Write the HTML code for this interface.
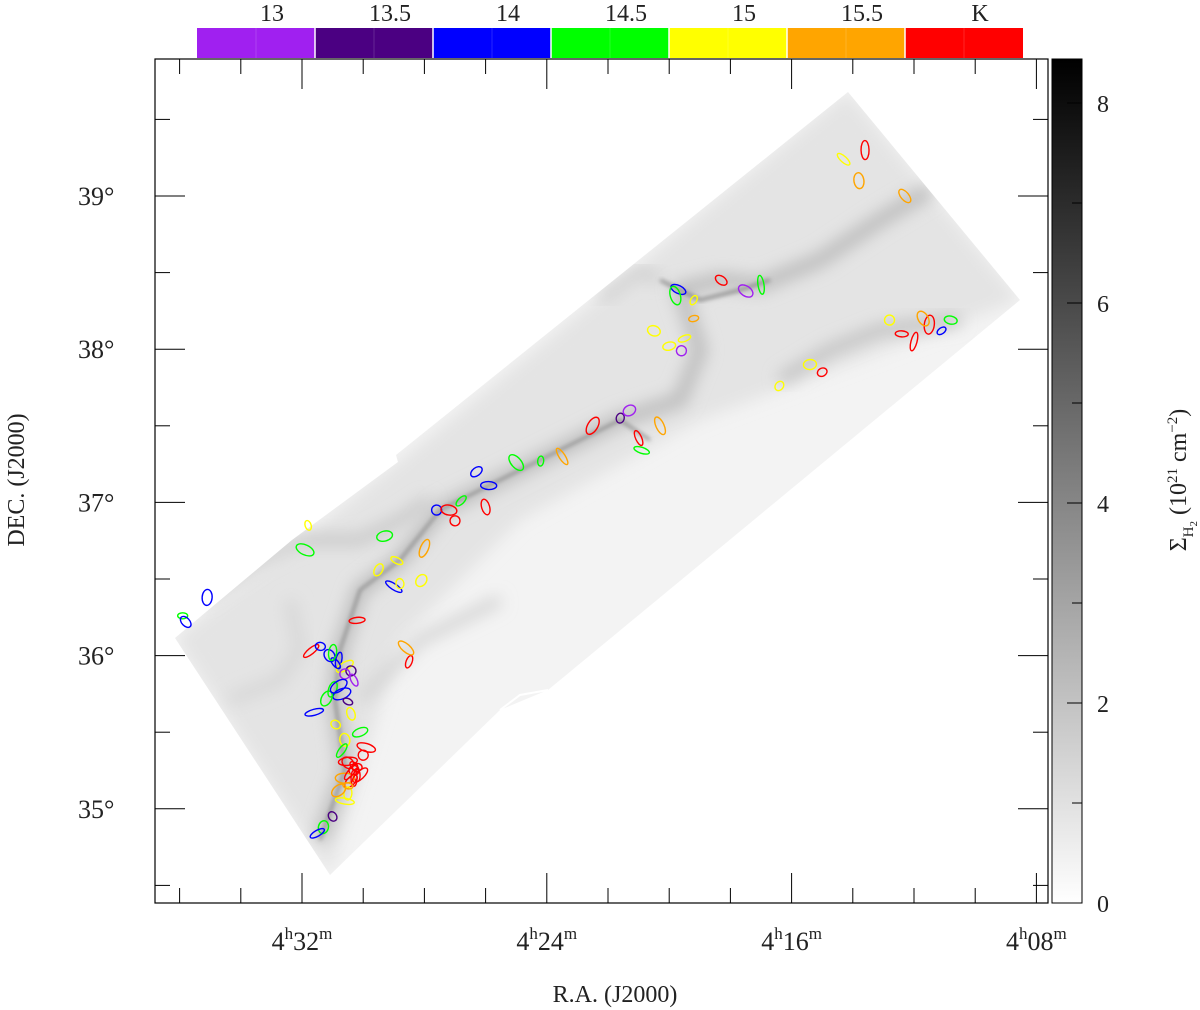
<!DOCTYPE html>
<html><head><meta charset="utf-8"><style>
html,body{margin:0;padding:0;background:#fff;}
svg{display:block;font-family:"Liberation Serif",serif;}
</style></head><body>
<svg id="chart" width="1200" height="1010" viewBox="0 0 1200 1010" xmlns="http://www.w3.org/2000/svg">
<defs>
<filter id="blur2" x="-20%" y="-20%" width="140%" height="140%"><feGaussianBlur stdDeviation="2"/></filter>
<filter id="blur6" x="-20%" y="-20%" width="140%" height="140%"><feGaussianBlur stdDeviation="8"/></filter>
<linearGradient id="greyGrad" x1="0" y1="1" x2="0" y2="0">
<stop offset="0" stop-color="#ffffff"/><stop offset="1" stop-color="#000000"/></linearGradient>
<clipPath id="mapClip"><polygon points="175,638 292,540 398,462 396,455 848,92 1020,300 548,690 500,710 330,875"/></clipPath>
</defs>
<g id="map">
<polygon points="175,638 292,540 398,462 396,455 848,92 1020,300 548,690 500,710 330,875" fill="#f3f3f3"/>
<g clip-path="url(#mapClip)">
<polygon points="175,638 398,462 848,92 1020,300 700,420 520,520 400,640 330,875" fill="#e4e4e4" filter="url(#blur6)"/>
<path d="M320,840 L345,770 L335,700 L340,650 L360,590 L400,560 L440,510 L500,480 L560,450 L620,420 L680,400 L700,350 L680,290 L720,280 L760,285 L820,260 L880,220 L930,190" stroke="#bbb" stroke-width="14" fill="none" filter="url(#blur6)"/>
<path d="M320,840 L345,770 L335,700 L340,650 L360,590 L400,560 L440,510 L500,480 L560,450 L620,420 L650,440" stroke="#777" stroke-width="2" fill="none" filter="url(#blur2)"/>
<path d="M200,600 L260,560 L300,540 L360,540 L400,520 L430,500" stroke="#c4c4c4" stroke-width="10" fill="none" filter="url(#blur6)"/>
<path d="M780,380 L830,350 L880,330 L960,320" stroke="#bbb" stroke-width="10" fill="none" filter="url(#blur6)"/>
<path d="M660,280 L700,300 L740,290 L770,280" stroke="#888" stroke-width="3" fill="none" filter="url(#blur2)"/>
<path d="M360,700 L420,640 L460,620 L500,600" stroke="#d0d0d0" stroke-width="10" fill="none" filter="url(#blur6)"/>
<path d="M230,700 L280,680 L300,650 L290,600" stroke="#d4d4d4" stroke-width="10" fill="none" filter="url(#blur6)"/>
<path d="M600,300 L640,270 L660,280" stroke="#c8c8c8" stroke-width="8" fill="none" filter="url(#blur6)"/>
</g>
<path d="M500,710 L520,695 L548,690" stroke="#fff" stroke-width="2" fill="none"/>
</g>
<g id="clumps"></g>
<rect x="155" y="59" width="893" height="844" fill="none" stroke="#000" stroke-width="1.2"/>
<g id="axes"></g>
<rect x="1052" y="59" width="30" height="844" fill="url(#greyGrad)"/>
<rect x="1052" y="59" width="30" height="844" fill="none" stroke="#000" stroke-width="1"/>
<g id="cbar"></g>
<g id="tbar"></g>
<text x="615" y="1002" font-size="24" text-anchor="middle" fill="#222">R.A. (J2000)</text>
<text transform="translate(24,480) rotate(-90)" font-size="24" text-anchor="middle" fill="#222">DEC. (J2000)</text>
<text transform="translate(1186,480) rotate(-90)" font-size="24" text-anchor="middle" fill="#222">Σ<tspan font-size="15" dy="7">H</tspan><tspan font-size="11" dy="4">2</tspan><tspan dy="-11">  (10</tspan><tspan font-size="15" dy="-9">21</tspan><tspan dy="9"> cm</tspan><tspan font-size="15" dy="-9">−2</tspan><tspan dy="9">)</tspan></text>
</svg>
<script>
const raTicks=[32,24,16,8];
const raTickLabels=["32","24","16","08"];
const decTicks=[35,36,37,38,39];
const densTicks=[0,2,4,6,8];
const tempLabels=["13","13.5","14","14.5","15","15.5","K"];
const tempColors=["#a020f0","#4b0082","#0000ff","#00ff00","#ffff00","#ffa500","#ff0000"];
const clumpRA=[35.9,35.8,35.1,31.7,31.4,31.1,30.8,30.6,30.4,30.3,31.0,30.7,30.5,30.4,31.2,31.6,30.9,30.6,30.7,30.5,30.3,30.2,30.4,30.6,30.3,30.5,30.8,30.6,31.0,31.3,31.5,29.9,30.0,28.5,30.1,31.9,31.8,29.5,29.3,29.0,28.8,28.1,30.2,28.6,27.6,26.8,25.9,25.0,24.2,26.3,27.2,23.5,21.6,21.3,20.9,20.3,19.6,19.5,19.7,19.8,19.2,20.0,17.5,17.0,16.4,15.4,14.3,13.6,12.8,12.4,12.3,11.5,11.1,10.8,11.7,12.0,15.0,20.5,21.0,28.0,27.0,28.9,26.0,22.5,19.2,18.3,13.8,30.4,30.2,30.5,30.3,30.1,30.6,30.9,31.0,30.8,30.5];
const clumpDec=[36.26,36.22,36.38,36.03,36.06,36.0,35.97,35.93,35.9,35.84,35.78,35.75,35.7,35.62,35.72,35.63,35.55,35.45,35.38,35.31,35.25,35.22,35.18,35.2,35.28,35.1,35.12,35.05,34.95,34.88,34.84,35.4,35.35,35.96,35.5,36.69,36.85,36.56,36.78,36.45,36.47,36.49,36.23,36.05,36.95,37.01,37.11,37.26,37.27,37.2,36.95,37.3,37.55,37.6,37.34,37.5,37.99,38.07,38.39,38.35,38.32,38.02,38.38,38.42,37.76,37.9,39.24,39.3,38.19,38.1,39.0,38.16,38.12,38.19,38.2,38.05,37.85,38.12,37.42,36.7,36.88,36.62,36.97,37.5,38.2,38.45,39.1,35.24,35.27,35.3,35.2,35.22,35.88,35.95,36.02,35.8,35.15];
const clumpTemp=[3,2,2,6,2,2,2,4,1,0,3,2,1,4,3,2,4,4,3,6,6,6,6,5,6,4,5,4,1,3,2,6,6,6,3,3,4,4,3,2,4,4,6,5,2,3,2,3,3,2,6,5,1,0,3,5,0,4,2,3,4,4,0,3,4,4,4,6,4,6,5,6,2,3,5,6,6,4,6,5,6,4,6,6,5,6,5,6,6,6,6,6,0,2,3,2,5];
function xRA(m){return 302+(32-m)*30.6;}
function yDec(d){return 196+(39-d)*153.2;}
function yDens(v){return 903-v*100;}
const NS="http://www.w3.org/2000/svg";
function mk(tag,attrs,parent){const e=document.createElementNS(NS,tag);for(const k in attrs)e.setAttribute(k,attrs[k]);parent.appendChild(e);return e;}
const cg=document.getElementById('clumps');
for(let i=0;i<clumpRA.length;i++){
  const cx=xRA(clumpRA[i]),cy=yDec(clumpDec[i]);
  const rx=5+(i%4)*1.5,ry=3+(i%3);const ang=(i*47)%180;
  const e=mk('ellipse',{cx:cx,cy:cy,rx:rx,ry:ry,transform:`rotate(${ang} ${cx} ${cy})`,fill:'none',stroke:tempColors[clumpTemp[i]],'stroke-width':1.4},cg);
  
  
}
const ag=document.getElementById('axes');
for(let m=36;m>=8;m-=2){
  const x=xRA(m);if(x<155||x>1048)continue;
  const major=raTicks.includes(m);const L=major?30:15;
  mk('line',{x1:x,y1:903,x2:x,y2:903-L,stroke:'#000','stroke-width':1},ag);
  mk('line',{x1:x,y1:59,x2:x,y2:59+L,stroke:'#000','stroke-width':1},ag);
}
raTicks.forEach((m,i)=>{
  const t=mk('text',{x:xRA(m),y:950,'font-size':26,'text-anchor':'middle',fill:'#222'},ag);
  t.innerHTML='4<tspan font-size="17" dy="-11">h</tspan><tspan dy="11">'+raTickLabels[i]+'</tspan><tspan font-size="17" dy="-11">m</tspan>';
  
  
});
for(let d=34.5;d<=39.5;d+=0.5){
  const y=yDec(d);if(y<59||y>903)continue;
  const major=Number.isInteger(d);const L=major?30:15;
  mk('line',{x1:155,y1:y,x2:155+L,y2:y,stroke:'#000','stroke-width':1},ag);
  mk('line',{x1:1048,y1:y,x2:1048-L,y2:y,stroke:'#000','stroke-width':1},ag);
}
decTicks.forEach(d=>{
  const t=mk('text',{x:78,y:yDec(d)+9,'font-size':26,fill:'#222'},ag);
  t.innerHTML=d+'°';
  
  
});
const cb=document.getElementById('cbar');
for(let v=0;v<=8;v++){
  const y=yDens(v);const L=(v%2===0)?15:10;
  mk('line',{x1:1082,y1:y,x2:1082-L,y2:y,stroke:'#000','stroke-width':1},cb);
}
densTicks.forEach(v=>{
  const t=mk('text',{x:1097,y:yDens(v)+9,'font-size':24,fill:'#222'},cb);
  t.textContent=v;
  
  
});
const tb=document.getElementById('tbar');
const segW=(1023-197)/7;
tempColors.forEach((c,i)=>{
  const r=mk('rect',{x:197+i*segW,y:28,width:segW,height:30,fill:c},tb);
  
  
  if(i>0)mk('line',{x1:197+i*segW,y1:28,x2:197+i*segW,y2:58,stroke:'#fff','stroke-width':1.5},tb);
  mk('line',{x1:197+i*segW+segW/2,y1:28,x2:197+i*segW+segW/2,y2:58,stroke:'rgba(255,255,255,0.15)','stroke-width':1},tb);
});
tempLabels.forEach((l,i)=>{
  const t=mk('text',{x:197+(i+1)*segW-43,y:21,'font-size':24,'text-anchor':'middle',fill:'#222'},tb);
  t.textContent=l;
  
  
});
</script>
</body></html>
